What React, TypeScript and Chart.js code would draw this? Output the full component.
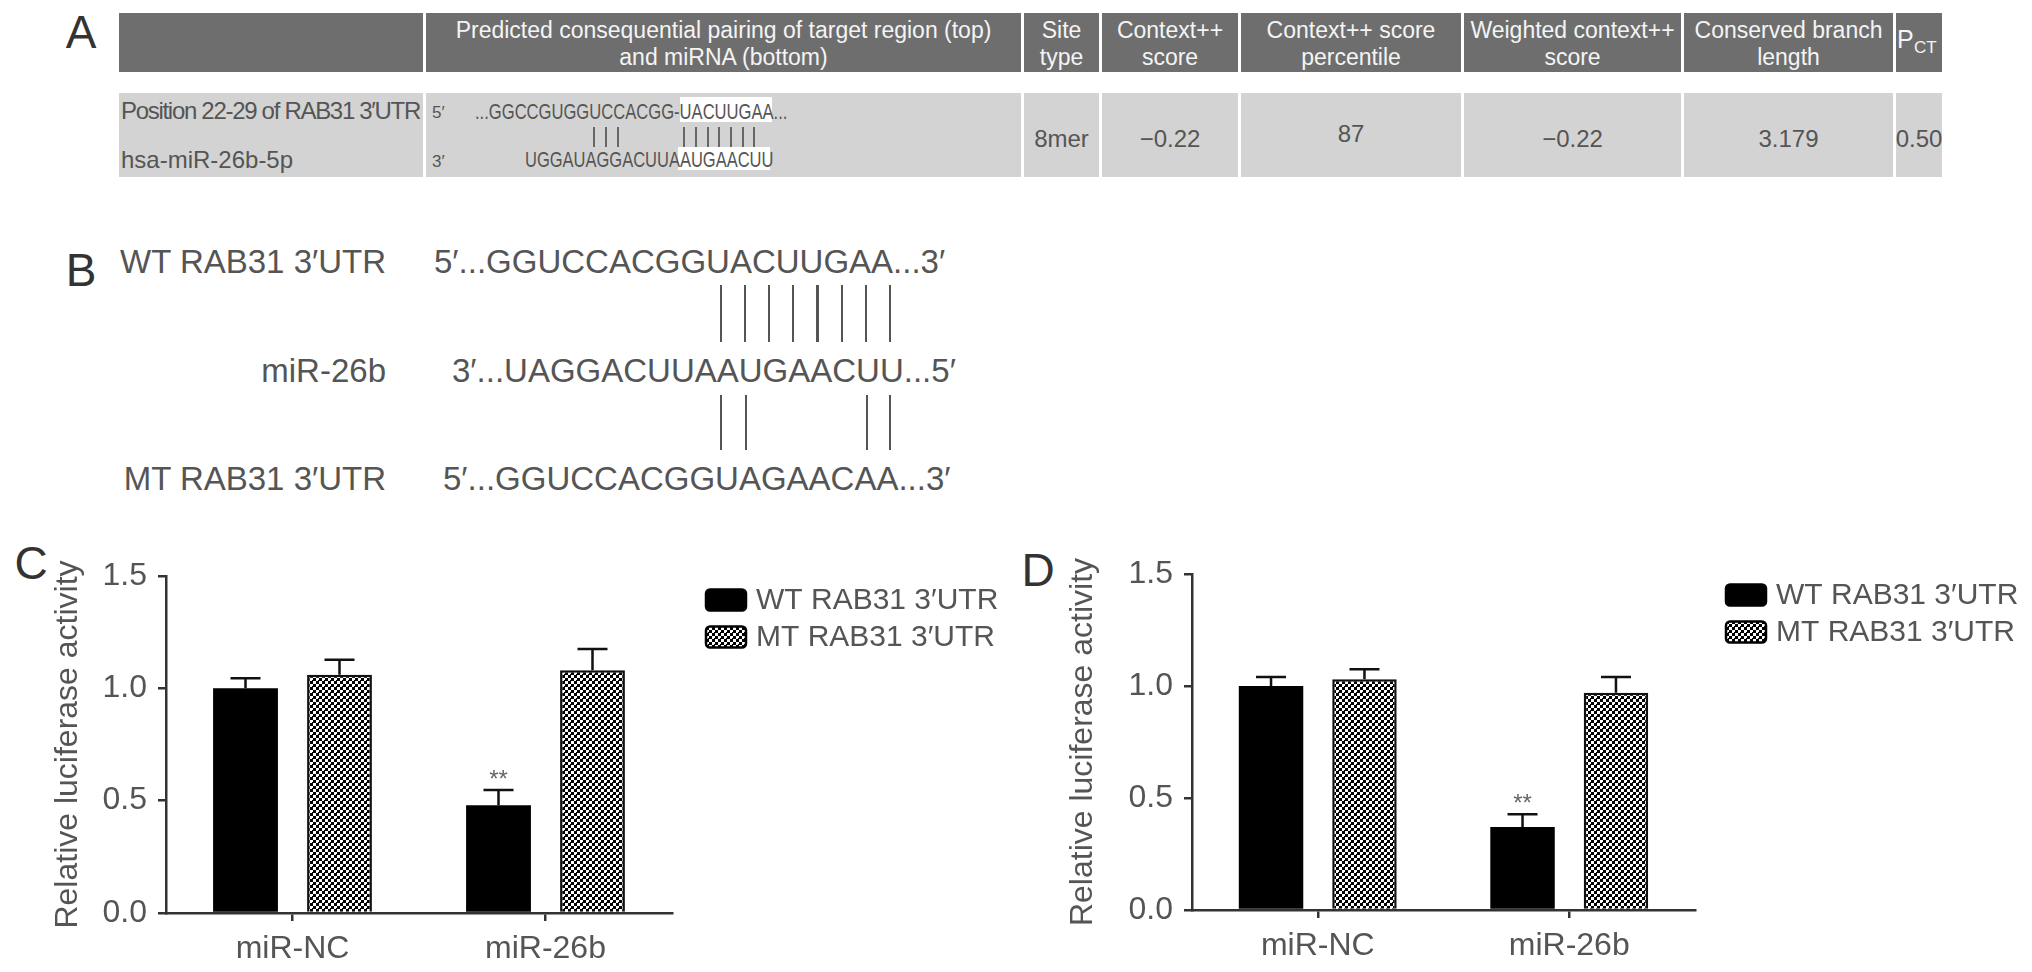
import React, { useEffect, useRef } from 'react';
import { Chart, registerables } from 'chart.js';

Chart.register(...registerables);

// ---------- data ----------
const categories = ['miR-NC', 'miR-26b'];
const seriesLabels = ['WT RAB31 3\u2032UTR', 'MT RAB31 3\u2032UTR'];
const yTickValues = [0, 0.5, 1.0, 1.5];
const yTitle = 'Relative luciferase activity';

const cWT = [1.0, 0.48];
const cWTErr = [0.045, 0.067];
const cMT = [1.06, 1.08];
const cMTErr = [0.067, 0.095];
const cStars = ['', '**'];

const dWT = [1.0, 0.37];
const dWTErr = [0.04, 0.058];
const dMT = [1.03, 0.97];
const dMTErr = [0.045, 0.07];
const dStars = ['', '**'];

const tableHeaders = [
  [''],
  ['Predicted consequential pairing of target region (top)', 'and miRNA (bottom)'],
  ['Site', 'type'],
  ['Context++', 'score'],
  ['Context++ score', 'percentile'],
  ['Weighted context++', 'score'],
  ['Conserved branch', 'length'],
];
const tableValues = ['8mer', '\u22120.22', '87', '\u22120.22', '3.179', '0.50'];
const rowLabels = ['Position 22-29 of RAB31 3\u2032UTR', 'hsa-miR-26b-5p'];
const targetSeqA = ['...GGCCGUGGUCCACGG-', 'UACUUGAA...'];
const mirnaSeqA = ['UGGAUAGGACUUA', 'AUGAACUU'];

const bLabels = ['WT RAB31 3\u2032UTR', 'miR-26b', 'MT RAB31 3\u2032UTR'];
const bSeqs = [
  '5\u2032...GGUCCACGGUACUUGAA...3\u2032',
  '3\u2032...UAGGACUUAAUGAACUU...5\u2032',
  '5\u2032...GGUCCACGGUAGAACAA...3\u2032',
];

// ---------- helpers ----------
const FONT = '"Liberation Sans", Arial, Helvetica, sans-serif';
const TEXT = '#555';

type TxtProps = {
  x: number; y: number; size: number; children: React.ReactNode;
  color?: string; align?: 'left' | 'center' | 'right'; sx?: number; ls?: number; weight?: number;
};
function Txt({ x, y, size, children, color = TEXT, align = 'left', sx = 1, ls = 0, weight = 400 }: TxtProps) {
  const tx = align === 'left' ? '0' : align === 'center' ? '-50%' : '-100%';
  const origin = align === 'left' ? 'left center' : align === 'center' ? 'center center' : 'right center';
  return (
    <div
      style={{
        position: 'absolute', left: x, top: y, whiteSpace: 'nowrap', lineHeight: 1,
        fontSize: size, color, fontFamily: FONT, letterSpacing: ls, fontWeight: weight,
        transform: `translate(${tx}, -50%) scaleX(${sx})`, transformOrigin: origin,
      }}
    >
      {children}
    </div>
  );
}

function Box({ x, y, w, h, bg }: { x: number; y: number; w: number; h: number; bg: string }) {
  return <div style={{ position: 'absolute', left: x, top: y, width: w, height: h, background: bg }} />;
}

function makePattern(ctx: CanvasRenderingContext2D) {
  const p = document.createElement('canvas');
  p.width = 6; p.height = 6;
  const c = p.getContext('2d')!;
  c.fillStyle = '#000'; c.fillRect(0, 0, 6, 6);
  c.fillStyle = '#fff'; c.fillRect(1, 1, 3, 3); c.fillRect(4, 4, 3, 3); c.fillRect(-2, 4, 3, 3); c.fillRect(4, -2, 3, 3);
  return ctx.createPattern(p, 'repeat')!;
}

const extrasPlugin = {
  id: 'extras',
  afterDatasetsDraw(chart: any) {
    const ctx = chart.ctx as CanvasRenderingContext2D;
    const ys = chart.scales.y;
    chart.data.datasets.forEach((ds: any, di: number) => {
      const meta = chart.getDatasetMeta(di);
      meta.data.forEach((bar: any, i: number) => {
        const v = ds.data[i];
        const e = ds.errors[i];
        const yTop = ys.getPixelForValue(v);
        const yCap = ys.getPixelForValue(v + e);
        ctx.save();
        ctx.strokeStyle = '#111';
        ctx.lineWidth = 2.5;
        ctx.beginPath();
        ctx.moveTo(bar.x, yTop);
        ctx.lineTo(bar.x, yCap);
        ctx.moveTo(bar.x - 15, yCap);
        ctx.lineTo(bar.x + 15, yCap);
        ctx.stroke();
        const star = ds.stars ? ds.stars[i] : '';
        if (star) {
          ctx.fillStyle = '#666';
          ctx.font = `24px ${FONT}`;
          ctx.textAlign = 'center';
          ctx.textBaseline = 'alphabetic';
          ctx.fillText(star, bar.x, yCap - 3);
        }
        ctx.restore();
      });
    });
  },
  afterDraw(chart: any) {
    const ctx = chart.ctx as CanvasRenderingContext2D;
    const lg = chart.options.plugins.customLegend;
    const area = chart.chartArea;
    chart.data.datasets.forEach((ds: any, di: number) => {
      const bx = area.right + lg.dx;
      const cy = area.top + lg.dy + di * 37;
      ctx.save();
      ctx.beginPath();
      (ctx as any).roundRect(bx, cy - 10.5, 40, 21, 4);
      ctx.fillStyle = ds.backgroundColor;
      ctx.fill();
      ctx.lineWidth = 2.5;
      ctx.strokeStyle = '#000';
      ctx.stroke();
      ctx.fillStyle = TEXT;
      ctx.font = `30px ${FONT}`;
      ctx.textAlign = 'left';
      ctx.textBaseline = 'middle';
      ctx.fillText(ds.label, bx + 50, cy + 1);
      ctx.restore();
    });
  },
};

type PanelProps = {
  left: number; top: number; width: number; height: number;
  wt: number[]; wtErr: number[]; mt: number[]; mtErr: number[]; stars: string[];
  area: { left: number; right: number; top: number; bottom: number };
  titlePad: number; legend: { dx: number; dy: number };
};

function BarPanel(p: PanelProps) {
  const ref = useRef<HTMLCanvasElement>(null);
  useEffect(() => {
    const canvas = ref.current!;
    const ctx = canvas.getContext('2d')!;
    const pattern = makePattern(ctx);
    const axisColor = '#333';
    const chart = new Chart(canvas, {
      type: 'bar',
      data: {
        labels: categories,
        datasets: [
          {
            label: seriesLabels[0], data: p.wt, errors: p.wtErr, stars: p.stars,
            backgroundColor: '#000', borderColor: '#000', borderWidth: 0,
            barPercentage: 0.69, categoryPercentage: 0.743,
          } as any,
          {
            label: seriesLabels[1], data: p.mt, errors: p.mtErr,
            backgroundColor: pattern, borderColor: '#111', borderWidth: 2.5,
            barPercentage: 0.69, categoryPercentage: 0.743,
          } as any,
        ],
      },
      options: {
        animation: false,
        responsive: false,
        devicePixelRatio: 1,
        layout: { padding: { left: 0, top: p.area.top, right: p.width - p.area.right, bottom: 0 } },
        plugins: {
          legend: { display: false },
          tooltip: { enabled: false },
          customLegend: p.legend,
        } as any,
        scales: {
          x: {
            offset: true,
            grid: { offset: false, drawOnChartArea: false, drawTicks: true, tickLength: 8, color: axisColor, lineWidth: 2.5 },
            border: { display: true, color: axisColor, width: 2.5 },
            ticks: { color: TEXT, font: { family: FONT, size: 32 }, padding: 9 },
            afterFit: (s: any) => { s.height = p.height - p.area.bottom; },
          },
          y: {
            min: 0, max: 1.5,
            afterBuildTicks: (s: any) => { s.ticks = yTickValues.map((v) => ({ value: v })); },
            ticks: { color: TEXT, font: { family: FONT, size: 32 }, padding: 11, callback: (v: any) => Number(v).toFixed(1) },
            grid: { drawOnChartArea: false, drawTicks: true, tickLength: 8, color: axisColor, lineWidth: 2.5 },
            border: { display: true, color: axisColor, width: 2.5 },
            title: { display: true, text: yTitle, color: TEXT, font: { family: FONT, size: 32 }, padding: { top: p.titlePad, bottom: 0 } },
            afterFit: (s: any) => { s.width = p.area.left; },
          },
        },
      } as any,
      plugins: [extrasPlugin],
    });
    return () => chart.destroy();
  }, []);
  return (
    <canvas
      ref={ref}
      width={p.width}
      height={p.height}
      style={{ position: 'absolute', left: p.left, top: p.top, width: p.width, height: p.height }}
    />
  );
}

// ---------- layout (positions only) ----------
const colEdges = [[119, 423], [426, 1021], [1024, 1099], [1102, 1238], [1241, 1461], [1464, 1681], [1684, 1893], [1896, 1942]];

export default function App() {
  useEffect(() => {
    document.body.style.margin = '0';
    document.body.style.overflow = 'hidden';
  }, []);

  const headerTop = 13, headerH = 59, rowTop = 93, rowH = 84;

  return (
    <div style={{ position: 'absolute', left: 0, top: 0, width: 2032, height: 972, background: '#fff', overflow: 'hidden' }}>
      {/* Panel letters */}
      <Txt x={81} y={32} size={46} color="#333" align="center">A</Txt>
      <Txt x={81} y={270} size={46} color="#333" align="center">B</Txt>
      <Txt x={31} y={563} size={46} color="#333" align="center">C</Txt>
      <Txt x={1038} y={570} size={46} color="#333" align="center">D</Txt>

      {/* Panel A table */}
      {colEdges.map(([a, b], i) => (
        <React.Fragment key={i}>
          <Box x={a} y={headerTop} w={b - a} h={headerH} bg="#6e6e6e" />
          <Box x={a} y={rowTop} w={b - a} h={rowH} bg="#d3d3d3" />
        </React.Fragment>
      ))}
      {tableHeaders.map((lines, i) => {
        const cx = (colEdges[i][0] + colEdges[i][1]) / 2;
        return lines.map((l, j) => (
          <Txt key={`h${i}-${j}`} x={cx} y={lines.length === 1 ? 44 : j === 0 ? 30 : 57} size={23} color="#f4f4f4" align="center">{l}</Txt>
        ));
      })}
      <Txt x={1897} y={39} size={25} color="#f4f4f4">P</Txt>
      <Txt x={1914} y={47} size={17} color="#f4f4f4">CT</Txt>

      {tableValues.map((v, i) => {
        const c = colEdges[i + 2];
        return <Txt key={`v${i}`} x={(c[0] + c[1]) / 2} y={v === '87' ? 134 : 139} size={24} align="center">{v}</Txt>;
      })}

      <Txt x={121} y={111} size={24} ls={-1.3}>{rowLabels[0]}</Txt>
      <Txt x={121} y={160} size={24}>{rowLabels[1]}</Txt>

      {/* highlighted seed region */}
      <Box x={680} y={97} w={92} h={25} bg="#fff" />
      <Box x={678} y={147} w={92} h={23} bg="#fff" />
      <Txt x={432} y={112} size={17}>5′</Txt>
      <Txt x={432} y={161} size={17}>3′</Txt>
      <Txt x={475} y={112} size={22} sx={0.754}>{targetSeqA[0] + targetSeqA[1]}</Txt>
      <Txt x={525} y={160} size={22} sx={0.75}>{mirnaSeqA[0] + mirnaSeqA[1]}</Txt>
      {[593, 605, 617, 683, 695, 707, 718, 730, 742, 753].map((x, i) => (
        <Box key={`al${i}`} x={x} y={127} w={1.6} h={20} bg="#666" />
      ))}

      {/* Panel B */}
      {bLabels.map((l, i) => (
        <Txt key={`bl${i}`} x={386} y={[261, 370, 478][i]} size={33} align="right">{l}</Txt>
      ))}
      {bSeqs.map((s, i) => (
        <Txt key={`bs${i}`} x={[434, 452, 443][i]} y={[261, 370, 478][i]} size={33}>{s}</Txt>
      ))}
      {[0, 1, 2, 3, 4, 5, 6, 7].map((i) => (
        <Box key={`bl1${i}`} x={721 + i * 24.1 - 1} y={285} w={2.2} h={57} bg="#555" />
      ))}
      {[721, 746, 867, 890].map((x, i) => (
        <Box key={`bl2${i}`} x={x - 1} y={395} w={2.2} h={55} bg="#555" />
      ))}

      {/* Panels C and D */}
      <BarPanel
        left={0} top={530} width={1020} height={442}
        wt={cWT} wtErr={cWTErr} mt={cMT} mtErr={cMTErr} stars={cStars}
        area={{ left: 166, right: 672, top: 46, bottom: 383 }}
        titlePad={49} legend={{ dx: 34, dy: 24 }}
      />
      <BarPanel
        left={1020} top={530} width={1012} height={442}
        wt={dWT} wtErr={dWTErr} mt={dMT} mtErr={dMTErr} stars={dStars}
        area={{ left: 172, right: 675, top: 44, bottom: 380 }}
        titlePad={44} legend={{ dx: 31, dy: 21 }}
      />
    </div>
  );
}
